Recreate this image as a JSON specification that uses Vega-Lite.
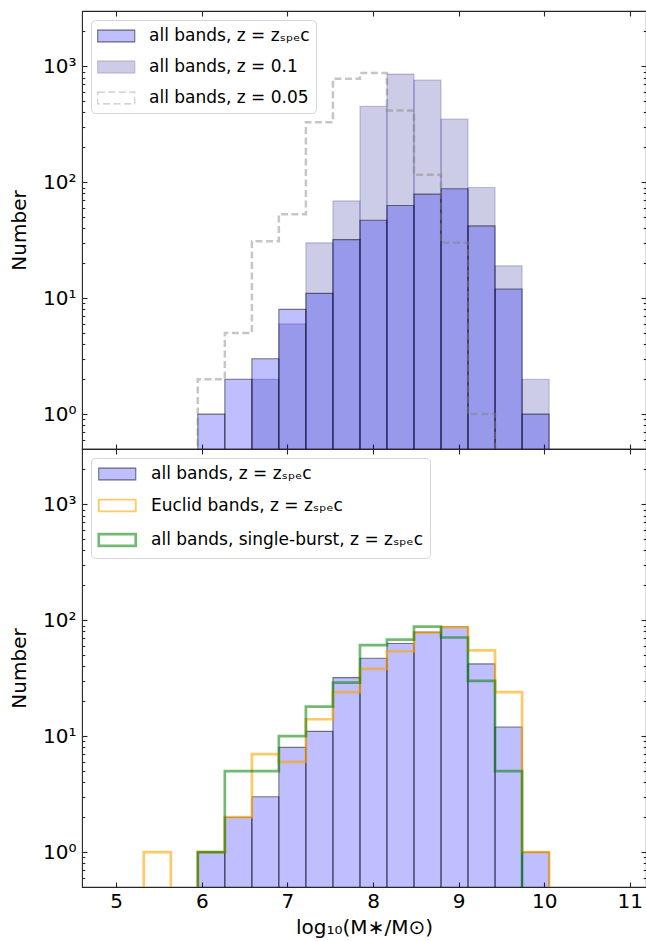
{
  "$schema": "https://vega.github.io/schema/vega-lite/v6.json",
  "padding": {"left": 8, "top": 9, "right": 0, "bottom": 0},
  "config": {
    "view": {"stroke": "#262626", "strokeWidth": 1.1},
    "font": "DejaVu Sans",
    "axis": {"domain": false, "grid": false, "tickColor": "#262626", "tickWidth": 1.1, "labelFont": "DejaVu Sans", "labelFontSize": 20, "labelColor": "#000000", "titleFont": "DejaVu Sans", "titleFontSize": 20, "titleFontWeight": "normal", "titleColor": "#000000", "labelOverlap": false, "labelFlush": false},
    "legend": {"orient": "top-left", "offset": 9, "padding": 6, "strokeColor": "#d6d6d6", "fillColor": "rgba(255,255,255,0.8)", "cornerRadius": 4, "labelFont": "DejaVu Sans", "labelFontSize": 17, "labelColor": "#000000", "symbolType": "M-1,-0.64H3V0.64H-1Z", "symbolSize": 342, "labelOffset": 32, "rowPadding": 12, "labelLimit": 600}
  },
  "datasets": {
    "bars_z01": [
      {"x0": 6.585, "x1": 6.900, "n": 2},
      {"x0": 6.900, "x1": 7.216, "n": 6},
      {"x0": 7.216, "x1": 7.532, "n": 30},
      {"x0": 7.532, "x1": 7.848, "n": 69},
      {"x0": 7.848, "x1": 8.163, "n": 451},
      {"x0": 8.163, "x1": 8.479, "n": 857},
      {"x0": 8.479, "x1": 8.795, "n": 760},
      {"x0": 8.795, "x1": 9.110, "n": 350},
      {"x0": 9.110, "x1": 9.426, "n": 90},
      {"x0": 9.426, "x1": 9.742, "n": 19},
      {"x0": 9.742, "x1": 10.058, "n": 2}
    ],
    "bars_zspec": [
      {"x0": 5.953, "x1": 6.269, "n": 1},
      {"x0": 6.269, "x1": 6.585, "n": 2},
      {"x0": 6.585, "x1": 6.900, "n": 3},
      {"x0": 6.900, "x1": 7.216, "n": 8},
      {"x0": 7.216, "x1": 7.532, "n": 11},
      {"x0": 7.532, "x1": 7.848, "n": 32},
      {"x0": 7.848, "x1": 8.163, "n": 47},
      {"x0": 8.163, "x1": 8.479, "n": 63},
      {"x0": 8.479, "x1": 8.795, "n": 79},
      {"x0": 8.795, "x1": 9.110, "n": 88},
      {"x0": 9.110, "x1": 9.426, "n": 42},
      {"x0": 9.426, "x1": 9.742, "n": 12},
      {"x0": 9.742, "x1": 10.058, "n": 1}
    ],
    "step_z005": [
      {"k": 0, "x": 5.953, "n": 0.1},
      {"k": 1, "x": 5.953, "n": 2},
      {"k": 2, "x": 6.269, "n": 5},
      {"k": 3, "x": 6.585, "n": 31},
      {"k": 4, "x": 6.900, "n": 53},
      {"k": 5, "x": 7.216, "n": 330},
      {"k": 6, "x": 7.532, "n": 782},
      {"k": 7, "x": 7.848, "n": 874},
      {"k": 8, "x": 8.163, "n": 416},
      {"k": 9, "x": 8.479, "n": 116},
      {"k": 10, "x": 8.795, "n": 30},
      {"k": 11, "x": 9.110, "n": 1},
      {"k": 12, "x": 9.426, "n": 0.1}
    ],
    "step_euclid": [
      {"k": 0, "x": 5.322, "n": 0.1},
      {"k": 1, "x": 5.322, "n": 1},
      {"k": 2, "x": 5.638, "n": 0.1},
      {"k": 3, "x": 5.953, "n": 1},
      {"k": 4, "x": 6.269, "n": 2},
      {"k": 5, "x": 6.585, "n": 7},
      {"k": 6, "x": 6.900, "n": 6},
      {"k": 7, "x": 7.216, "n": 14},
      {"k": 8, "x": 7.532, "n": 24},
      {"k": 9, "x": 7.848, "n": 38},
      {"k": 10, "x": 8.163, "n": 54},
      {"k": 11, "x": 8.479, "n": 78},
      {"k": 12, "x": 8.795, "n": 87},
      {"k": 13, "x": 9.110, "n": 55},
      {"k": 14, "x": 9.426, "n": 24},
      {"k": 15, "x": 9.742, "n": 1},
      {"k": 16, "x": 10.058, "n": 0.1}
    ],
    "step_burst": [
      {"k": 0, "x": 5.953, "n": 0.1},
      {"k": 1, "x": 5.953, "n": 1},
      {"k": 2, "x": 6.269, "n": 5},
      {"k": 3, "x": 6.585, "n": 5},
      {"k": 4, "x": 6.900, "n": 10},
      {"k": 5, "x": 7.216, "n": 18},
      {"k": 6, "x": 7.532, "n": 29},
      {"k": 7, "x": 7.848, "n": 61},
      {"k": 8, "x": 8.163, "n": 68},
      {"k": 9, "x": 8.479, "n": 88},
      {"k": 10, "x": 8.795, "n": 71},
      {"k": 11, "x": 9.110, "n": 30},
      {"k": 12, "x": 9.426, "n": 5},
      {"k": 13, "x": 9.742, "n": 0.1}
    ],
    "legend_top": [
      {"series": "all bands, z = zₛₚₑc"},
      {"series": "all bands, z = 0.1"},
      {"series": "all bands, z = 0.05"}
    ],
    "legend_bottom": [
      {"series": "all bands, z = zₛₚₑc"},
      {"series": "Euclid bands, z = zₛₚₑc"},
      {"series": "all bands, single-burst, z = zₛₚₑc"}
    ]
  },
  "spacing": 0,
  "bounds": "flush",
  "resolve": {"scale": {"x": "independent", "y": "independent", "fill": "independent", "stroke": "independent", "strokeDash": "independent", "strokeWidth": "independent"}, "legend": {"fill": "independent", "stroke": "independent", "strokeDash": "independent", "strokeWidth": "independent"}},
  "vconcat": [
    {
      "width": 564,
      "height": 438,
      "resolve": {"axis": {"x": "independent", "y": "independent"}},
      "layer": [
        {
          "data": {"name": "bars_z01"},
          "mark": {"type": "bar", "strokeWidth": 1.1, "clip": true, "fill": "#000080", "fillOpacity": 0.2, "stroke": "#000080", "strokeOpacity": 0.22},
          "encoding": {
            "x": {"field": "x0", "type": "quantitative", "scale": {"domain": [4.6, 11.19], "nice": false, "zero": false},
                  "axis": {"values": [5, 6, 7, 8, 9, 10, 11], "labels": false, "tickSize": -5, "title": null}},
            "x2": {"field": "x1"},
            "y": {"field": "n", "type": "quantitative", "scale": {"type": "log", "domain": [0.5, 3000], "nice": false},
                  "axis": {"title": "Number", "titlePadding": 13, "labelPadding": 11,
                           "values": [0.6, 0.7, 0.8, 0.9, 1, 2, 3, 4, 5, 6, 7, 8, 9, 10, 20, 30, 40, 50, 60, 70, 80, 90, 100, 200, 300, 400, 500, 600, 700, 800, 900, 1000, 2000],
                           "labelExpr": "datum.value == 1 ? '10⁰' : datum.value == 10 ? '10¹' : datum.value == 100 ? '10²' : datum.value == 1000 ? '10³' : ''",
                           "tickSize": {"condition": {"test": "indexof([1, 10, 100, 1000], datum.value) >= 0", "value": -5}, "value": -2.8}}},
            "y2": {"datum": 0.1}
          }
        },
        {
          "data": {"name": "bars_zspec"},
          "mark": {"type": "bar", "strokeWidth": 1.1, "clip": true, "fill": "#0000ff", "fillOpacity": 0.25, "stroke": "#000000", "strokeOpacity": 0.5},
          "encoding": {
            "x": {"field": "x0", "type": "quantitative", "scale": {"domain": [4.6, 11.19], "nice": false, "zero": false}, "axis": null},
            "x2": {"field": "x1"},
            "y": {"field": "n", "type": "quantitative", "scale": {"type": "log", "domain": [0.5, 3000], "nice": false}, "axis": null},
            "y2": {"datum": 0.1}
          }
        },
        {
          "data": {"name": "step_z005"},
          "mark": {"type": "line", "interpolate": "step-after", "clip": true, "stroke": "#808080", "strokeOpacity": 0.45, "strokeWidth": 2.5, "strokeDash": [7, 3.5]},
          "encoding": {
            "x": {"field": "x", "type": "quantitative", "scale": {"domain": [4.6, 11.19], "nice": false, "zero": false}, "axis": null},
            "y": {"field": "n", "type": "quantitative", "scale": {"type": "log", "domain": [0.5, 3000], "nice": false}, "axis": null},
            "order": {"field": "k"}
          }
        },
        {
          "data": {"name": "legend_top"},
          "transform": [{"filter": "false"}],
          "mark": {"type": "bar"},
          "encoding": {
            "fill": {"field": "series", "type": "nominal",
                     "scale": {"domain": ["all bands, z = zₛₚₑc", "all bands, z = 0.1", "all bands, z = 0.05"], "range": ["#bfbfff", "#ccccE6", "transparent"]},
                     "legend": {"title": null}},
            "stroke": {"field": "series", "type": "nominal",
                     "scale": {"domain": ["all bands, z = zₛₚₑc", "all bands, z = 0.1", "all bands, z = 0.05"], "range": ["#666680", "#b4b4d6", "#c6c6c6"]},
                     "legend": {"title": null}},
            "strokeDash": {"field": "series", "type": "nominal",
                     "scale": {"domain": ["all bands, z = zₛₚₑc", "all bands, z = 0.1", "all bands, z = 0.05"], "range": [[1, 0], [1, 0], [7, 3.5]]},
                     "legend": {"title": null}},
            "strokeWidth": {"field": "series", "type": "nominal",
                     "scale": {"domain": ["all bands, z = zₛₚₑc", "all bands, z = 0.1", "all bands, z = 0.05"], "range": [1.1, 1.1, 2.5]},
                     "legend": {"title": null}}
          }
        },
        {
          "data": {"name": "bars_zspec"},
          "mark": {"type": "point", "opacity": 0},
          "encoding": {
            "x": {"field": "x0", "type": "quantitative", "scale": {"domain": [4.6, 11.19], "nice": false, "zero": false},
                  "axis": {"orient": "top", "values": [5, 6, 7, 8, 9, 10, 11], "labels": false, "tickSize": -5, "title": null}},
            "y": {"field": "n", "type": "quantitative", "scale": {"type": "log", "domain": [0.5, 3000], "nice": false},
                  "axis": {"orient": "right", "labels": false, "title": null,
                           "values": [0.6, 0.7, 0.8, 0.9, 1, 2, 3, 4, 5, 6, 7, 8, 9, 10, 20, 30, 40, 50, 60, 70, 80, 90, 100, 200, 300, 400, 500, 600, 700, 800, 900, 1000, 2000],
                           "tickSize": {"condition": {"test": "indexof([1, 10, 100, 1000], datum.value) >= 0", "value": -5}, "value": -2.8}}}
          }
        }
      ]
    },
    {
      "width": 564,
      "height": 438,
      "resolve": {"axis": {"x": "independent", "y": "independent"}},
      "layer": [
        {
          "data": {"name": "bars_zspec"},
          "mark": {"type": "bar", "strokeWidth": 1.1, "clip": true, "fill": "#0000ff", "fillOpacity": 0.25, "stroke": "#000000", "strokeOpacity": 0.5},
          "encoding": {
            "x": {"field": "x0", "type": "quantitative", "scale": {"domain": [4.6, 11.19], "nice": false, "zero": false},
                  "axis": {"values": [5, 6, 7, 8, 9, 10, 11], "tickSize": -5, "labelPadding": 9.5, "title": "log₁₀(M∗/M⊙)", "titlePadding": 6}},
            "x2": {"field": "x1"},
            "y": {"field": "n", "type": "quantitative", "scale": {"type": "log", "domain": [0.5, 3000], "nice": false},
                  "axis": {"title": "Number", "titlePadding": 13, "labelPadding": 11,
                           "values": [0.6, 0.7, 0.8, 0.9, 1, 2, 3, 4, 5, 6, 7, 8, 9, 10, 20, 30, 40, 50, 60, 70, 80, 90, 100, 200, 300, 400, 500, 600, 700, 800, 900, 1000, 2000],
                           "labelExpr": "datum.value == 1 ? '10⁰' : datum.value == 10 ? '10¹' : datum.value == 100 ? '10²' : datum.value == 1000 ? '10³' : ''",
                           "tickSize": {"condition": {"test": "indexof([1, 10, 100, 1000], datum.value) >= 0", "value": -5}, "value": -2.8}}},
            "y2": {"datum": 0.1}
          }
        },
        {
          "data": {"name": "step_euclid"},
          "mark": {"type": "line", "interpolate": "step-after", "clip": true, "stroke": "#ffa500", "strokeOpacity": 0.6, "strokeWidth": 2.7},
          "encoding": {
            "x": {"field": "x", "type": "quantitative", "scale": {"domain": [4.6, 11.19], "nice": false, "zero": false}, "axis": null},
            "y": {"field": "n", "type": "quantitative", "scale": {"type": "log", "domain": [0.5, 3000], "nice": false}, "axis": null},
            "order": {"field": "k"}
          }
        },
        {
          "data": {"name": "step_burst"},
          "mark": {"type": "line", "interpolate": "step-after", "clip": true, "stroke": "#008000", "strokeOpacity": 0.55, "strokeWidth": 2.7},
          "encoding": {
            "x": {"field": "x", "type": "quantitative", "scale": {"domain": [4.6, 11.19], "nice": false, "zero": false}, "axis": null},
            "y": {"field": "n", "type": "quantitative", "scale": {"type": "log", "domain": [0.5, 3000], "nice": false}, "axis": null},
            "order": {"field": "k"}
          }
        },
        {
          "data": {"name": "legend_bottom"},
          "transform": [{"filter": "false"}],
          "mark": {"type": "bar"},
          "encoding": {
            "fill": {"field": "series", "type": "nominal",
                     "scale": {"domain": ["all bands, z = zₛₚₑc", "Euclid bands, z = zₛₚₑc", "all bands, single-burst, z = zₛₚₑc"], "range": ["#bfbfff", "transparent", "transparent"]},
                     "legend": {"title": null}},
            "stroke": {"field": "series", "type": "nominal",
                     "scale": {"domain": ["all bands, z = zₛₚₑc", "Euclid bands, z = zₛₚₑc", "all bands, single-burst, z = zₛₚₑc"], "range": ["#666680", "#ffc966", "#73b973"]},
                     "legend": {"title": null}},
            "strokeWidth": {"field": "series", "type": "nominal",
                     "scale": {"domain": ["all bands, z = zₛₚₑc", "Euclid bands, z = zₛₚₑc", "all bands, single-burst, z = zₛₚₑc"], "range": [1.1, 2.7, 2.7]},
                     "legend": {"title": null}}
          }
        },
        {
          "data": {"name": "bars_zspec"},
          "mark": {"type": "point", "opacity": 0},
          "encoding": {
            "x": {"field": "x0", "type": "quantitative", "scale": {"domain": [4.6, 11.19], "nice": false, "zero": false},
                  "axis": {"orient": "top", "values": [5, 6, 7, 8, 9, 10, 11], "labels": false, "tickSize": -5, "title": null}},
            "y": {"field": "n", "type": "quantitative", "scale": {"type": "log", "domain": [0.5, 3000], "nice": false},
                  "axis": {"orient": "right", "labels": false, "title": null,
                           "values": [0.6, 0.7, 0.8, 0.9, 1, 2, 3, 4, 5, 6, 7, 8, 9, 10, 20, 30, 40, 50, 60, 70, 80, 90, 100, 200, 300, 400, 500, 600, 700, 800, 900, 1000, 2000],
                           "tickSize": {"condition": {"test": "indexof([1, 10, 100, 1000], datum.value) >= 0", "value": -5}, "value": -2.8}}}
          }
        }
      ]
    }
  ]
}
